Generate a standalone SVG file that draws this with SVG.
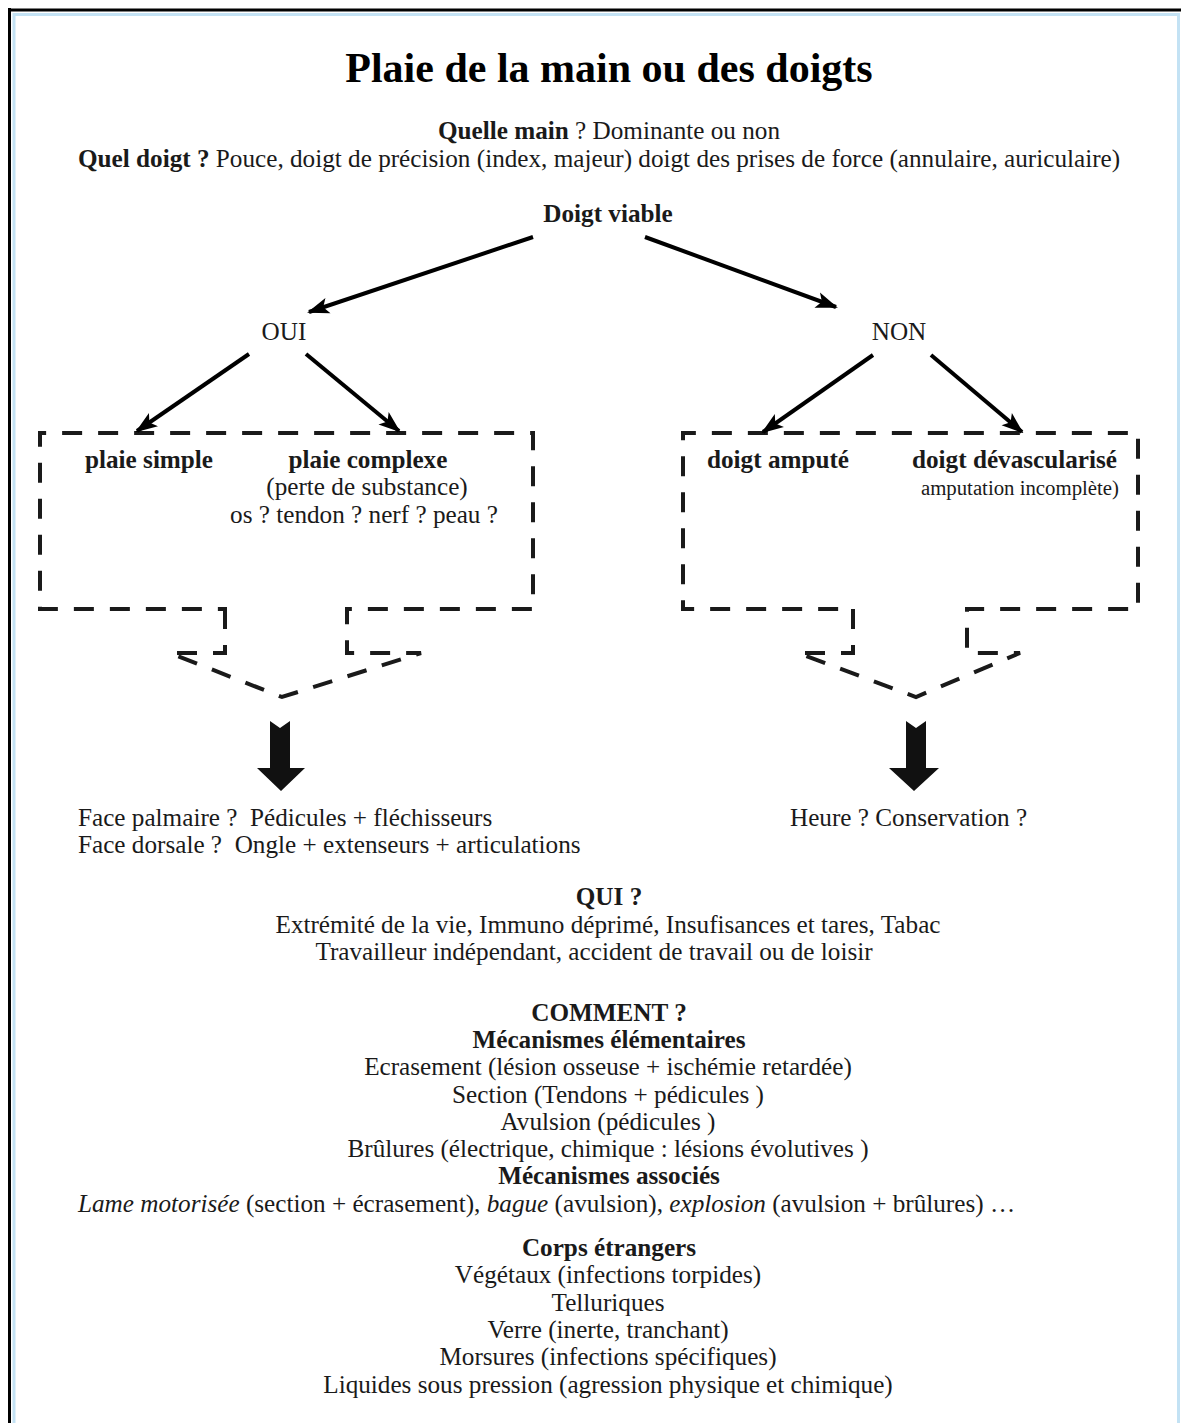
<svg xmlns="http://www.w3.org/2000/svg" width="1181" height="1423" viewBox="0 0 1181 1423">
<style>
text{font-family:"Liberation Serif","Times New Roman",serif;fill:#1a1a1a;font-size:25.2px;white-space:pre}
.b{font-weight:bold}
.c{text-anchor:middle}
.t{font-size:42px;font-weight:bold;fill:#000}
.s{font-size:20.8px}
.dash{fill:none;stroke:#1a1a1a;stroke-width:4;stroke-dasharray:20 16}
.conn{stroke:#000;stroke-width:4;fill:none}
</style>
<defs>
<marker id="ah" markerUnits="userSpaceOnUse" markerWidth="22" markerHeight="18" refX="20" refY="9" orient="auto">
<path d="M0,1 L22,9 L0,17 L5,9 z" fill="#000"/>
</marker>
</defs>
<rect width="1181" height="1423" fill="#fff"/>
<g id="frame">
<path d="M8,10 H1181 M9.5,8 V1423" stroke="#000" stroke-width="3" fill="none"/>
<path d="M14,1423 V14.5 H1178.5 V1423" stroke="#c3e2f4" stroke-width="3" fill="none"/>
</g>
<g id="header">
<text class="t c" x="609" y="82">Plaie de la main ou des doigts</text>
<text class="c" x="609" y="139"><tspan class="b">Quelle main</tspan> ? Dominante ou non</text>
<text x="78" y="167"><tspan class="b">Quel doigt ?</tspan> Pouce, doigt de précision (index, majeur) doigt des prises de force (annulaire, auriculaire)</text>
</g>
<g id="n-viable"><text class="b c" x="608" y="222">Doigt viable</text></g>
<g id="n-oui"><text class="c" x="284" y="340">OUI</text></g>
<g id="n-non"><text class="c" x="899" y="340">NON</text></g>
<g id="n-oui-box">
<path class="dash" d="M225,609 V653 H170 L282,697 L421,653 H347 V609 H533 V433 H40 V609 Z"/>
<text class="b" x="85" y="468">plaie simple</text>
<text class="b c" x="368" y="468">plaie complexe</text>
<text class="c" x="367" y="495">(perte de substance)</text>
<text class="c" x="364" y="523">os ? tendon ? nerf ? peau ?</text>
</g>
<g id="n-non-box">
<path class="dash" d="M853,609 V653 H798 L916,697 L1020,653 H967 V609 H1138 V433 H683 V609 Z"/>
<text class="b" x="707" y="468">doigt amputé</text>
<text class="b" x="1117" y="468" text-anchor="end">doigt dévascularisé</text>
<text class="s" x="1119" y="495" text-anchor="end">amputation incomplète)</text>
</g>
<g id="connectors">
<line class="conn" x1="533" y1="237" x2="309" y2="312" marker-end="url(#ah)"/>
<line class="conn" x1="645" y1="237" x2="836" y2="307" marker-end="url(#ah)"/>
<line class="conn" x1="249" y1="354" x2="137" y2="431" marker-end="url(#ah)"/>
<line class="conn" x1="306" y1="354" x2="399" y2="431" marker-end="url(#ah)"/>
<line class="conn" x1="873" y1="355" x2="763" y2="432" marker-end="url(#ah)"/>
<line class="conn" x1="931" y1="355" x2="1022" y2="432" marker-end="url(#ah)"/>
<path d="M270,721 L280,728 L290,721 V768 H305 L281,791 L257,768 H270 Z" fill="#111"/>
<path d="M906,721 L916,728 L926,721 V768 H939 L914,791 L889,768 H906 Z" fill="#111"/>
</g>
<g id="n-oui-result">
<text x="78" y="826">Face palmaire ?  Pédicules + fléchisseurs</text>
<text x="78" y="853">Face dorsale ?  Ongle + extenseurs + articulations</text>
</g>
<g id="n-non-result">
<text x="790" y="826">Heure ? Conservation ?</text>
</g>
<g id="n-qui">
<text class="b c" x="609" y="905">QUI ?</text>
<text class="c" x="608" y="933">Extrémité de la vie, Immuno déprimé, Insufisances et tares, Tabac</text>
<text class="c" x="594" y="960">Travailleur indépendant, accident de travail ou de loisir</text>
</g>
<g id="n-comment">
<text class="b c" x="609" y="1021">COMMENT ?</text>
<text class="b c" x="609" y="1048">Mécanismes élémentaires</text>
<text class="c" x="608" y="1075">Ecrasement (lésion osseuse + ischémie retardée)</text>
<text class="c" x="608" y="1103">Section (Tendons + pédicules )</text>
<text class="c" x="608" y="1130">Avulsion (pédicules )</text>
<text class="c" x="608" y="1157">Brûlures (électrique, chimique : lésions évolutives )</text>
<text class="b c" x="609" y="1184">Mécanismes associés</text>
<text x="78" y="1212"><tspan font-style="italic">Lame motorisée</tspan> (section + écrasement), <tspan font-style="italic">bague</tspan> (avulsion), <tspan font-style="italic">explosion</tspan> (avulsion + brûlures) …</text>
</g>
<g id="n-corps">
<text class="b c" x="609" y="1256">Corps étrangers</text>
<text class="c" x="608" y="1283">Végétaux (infections torpides)</text>
<text class="c" x="608" y="1311">Telluriques</text>
<text class="c" x="608" y="1338">Verre (inerte, tranchant)</text>
<text class="c" x="608" y="1365">Morsures (infections spécifiques)</text>
<text class="c" x="608" y="1393">Liquides sous pression (agression physique et chimique)</text>
</g>
</svg>
